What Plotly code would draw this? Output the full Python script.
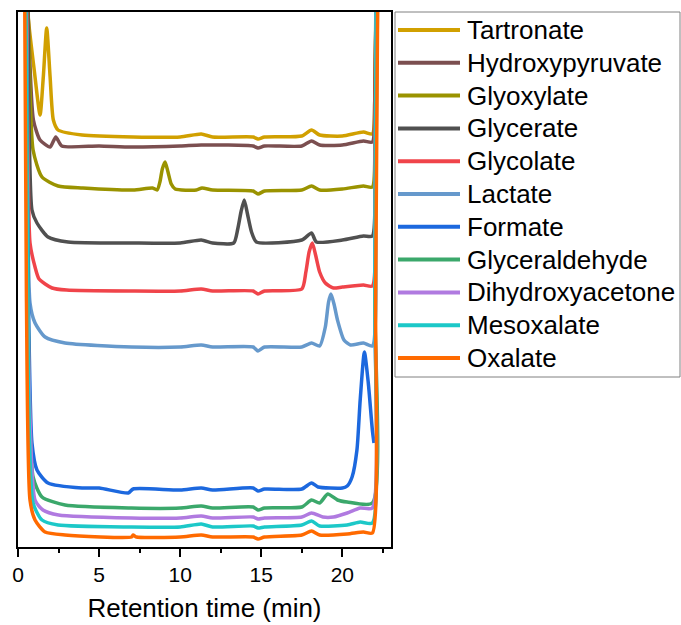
import plotly.graph_objects as go

# Retention time (min) sample points and detector signal (a.u., stacked offsets included)
names = ["Tartronate", "Hydroxypyruvate", "Glyoxylate", "Glycerate", "Glycolate",
         "Lactate", "Formate", "Glyceraldehyde", "Dihydroxyacetone", "Mesoxalate", "Oxalate"]

colors = ["#D1A000", "#7B4F50", "#9A9300", "#505050", "#F0444A",
          "#6699CC", "#1C68DE", "#3BA86B", "#B07AE0", "#1CC8C8", "#FF6A00"]

t_tartronate = [0.45, 0.6, 1.0, 1.36, 1.56, 1.77, 1.98, 2.18, 2.47, 3.95, 7.1, 10.0, 11.3, 12.0,
                14.5, 14.8, 15.2, 17.5, 18.1, 18.6, 20.0, 21.3, 21.85, 22.0, 22.1]
s_tartronate = [647, 535, 477, 432, 470, 519, 470, 427, 417, 412, 410, 410, 413, 410,
                410, 408, 410, 411, 417, 412, 411, 415, 413, 447, 597]

t_hydroxypyruvate = [0.45, 0.62, 0.95, 1.36, 1.98, 2.33, 2.7, 5.0, 7.0, 10.0, 11.3, 14.5, 14.8, 15.2,
                     17.5, 18.1, 18.6, 20.0, 21.3, 21.85, 22.0, 22.1]
s_hydroxypyruvate = [647, 535, 427, 407, 400, 410, 401, 401, 400, 401, 402, 401, 399, 401,
                     401, 406, 402, 402, 406, 405, 447, 597]

t_glyoxylate = [0.5, 0.65, 0.93, 1.48, 2.47, 4.0, 7.1, 8.3, 8.58, 8.75, 8.9, 9.07, 9.25, 9.45, 9.69,
                11.0, 11.35, 12.0, 14.5, 14.8, 15.2, 17.5, 18.1, 18.6, 20.0, 21.3, 21.85, 22.0, 22.1]
s_glyoxylate = [647, 517, 397, 370, 361, 359, 357, 359, 357, 365, 378, 385, 375, 363, 358,
                357, 359, 357, 356, 353, 356, 357, 361, 357, 358, 361, 360, 427, 597]

t_glycerate = [0.5, 0.62, 0.86, 1.17, 1.85, 3.09, 7.0, 10.0, 11.3, 12.0, 13.3, 13.55, 13.75, 13.95, 14.15,
               14.4, 14.7, 17.5, 18.1, 18.4, 20.0, 21.3, 21.85, 22.0, 22.1]
s_glycerate = [647, 520, 337, 324, 310, 305, 304, 304, 307, 304, 304, 318, 335, 347, 333,
               315, 305, 307, 314, 305, 307, 311, 311, 397, 597]

t_glycolate = [0.45, 0.56, 0.74, 1.05, 1.3, 2.1, 3.0, 7.0, 10.0, 11.3, 12.0, 14.5, 14.8, 15.2, 17.5, 17.75,
               17.95, 18.15, 18.35, 18.6, 18.95, 19.45, 20.0, 21.3, 21.85, 22.0, 22.1]
s_glycolate = [647, 520, 304, 280, 268, 259, 257, 256, 256, 258, 256, 256, 253, 256, 258, 275,
               295, 304, 292, 275, 264, 259, 260, 262, 261, 397, 597]

t_lactate = [0.45, 0.56, 0.74, 1.05, 1.67, 2.9, 7.0, 10.0, 11.3, 12.0, 14.5, 14.8, 15.2, 17.5, 18.1,
             18.6, 18.95, 19.15, 19.3, 19.5, 19.7, 20.1, 20.5, 21.3, 21.85, 22.05, 22.2]
s_lactate = [647, 480, 244, 224, 210, 204, 200, 200, 202, 200, 200, 196, 200, 200, 204,
             201, 220, 245, 253, 242, 227, 207, 202, 204, 201, 347, 597]

t_formate = [0.45, 0.6, 0.86, 1.17, 1.85, 3.95, 5.0, 6.8, 7.1, 10.0, 11.3, 12.0, 14.5, 14.8, 15.2,
             17.5, 18.1, 18.5, 20.0, 20.3, 20.6, 20.9, 21.1, 21.36, 21.6, 21.85, 21.95]
s_formate = [647, 300, 104, 77, 64, 59, 59, 54, 58, 57, 59, 57, 59, 56, 58,
             58, 64, 60, 59, 61, 70, 97, 147, 195, 164, 117, 104]

t_glyceraldehyde = [0.45, 0.62, 0.93, 1.48, 2.9, 7.0, 10.0, 11.3, 12.0, 14.5, 14.8, 15.2, 17.5,
                    18.1, 18.6, 19.1, 19.7, 20.3, 21.85, 22.0, 22.1]
s_glyceraldehyde = [647, 250, 70, 50, 42, 39, 39, 41, 39, 40, 37, 39, 40,
                    47, 44, 53, 47, 45, 44, 247, 597]

t_dihydroxyacetone = [0.45, 0.62, 1.05, 1.54, 2.5, 7.0, 10.0, 11.3, 12.0, 14.5, 14.8, 15.2,
                      17.5, 18.1, 18.8, 19.45, 20.3, 21.1, 21.85, 22.0, 22.1]
s_dihydroxyacetone = [647, 220, 47, 37, 32, 29, 29, 31, 29, 30, 28, 29,
                      30, 34, 30, 30, 34, 39, 39, 247, 597]

t_mesoxalate = [0.45, 0.62, 0.93, 1.48, 2.47, 7.0, 10.0, 11.3, 12.0, 14.5, 14.8, 15.2, 17.5,
                18.1, 18.6, 20.3, 21.1, 21.85, 22.0, 22.1]
s_mesoxalate = [647, 200, 44, 27, 22, 20, 20, 23, 20, 21, 19, 20, 22,
                26, 21, 22, 25, 24, 247, 597]

t_oxalate = [0.38, 0.52, 0.74, 1.05, 1.67, 2.9, 7.0, 7.1, 7.3, 10.0, 11.3, 12.0, 14.5, 14.8, 15.2,
             17.5, 18.1, 18.6, 20.3, 21.3, 21.85, 22.05, 22.2]
s_oxalate = [647, 250, 47, 27, 15, 12, 10, 12, 10, 10, 12, 10, 10, 8, 10,
             12, 16, 12, 13, 15, 14, 247, 597]

times = [t_tartronate, t_hydroxypyruvate, t_glyoxylate, t_glycerate, t_glycolate, t_lactate,
         t_formate, t_glyceraldehyde, t_dihydroxyacetone, t_mesoxalate, t_oxalate]
signals = [s_tartronate, s_hydroxypyruvate, s_glyoxylate, s_glycerate, s_glycolate, s_lactate,
           s_formate, s_glyceraldehyde, s_dihydroxyacetone, s_mesoxalate, s_oxalate]

x_tickvals = [0, 5, 10, 15, 20]

fig = go.Figure()
for name, color, t, s in zip(names, colors, times, signals):
    fig.add_trace(go.Scatter(x=t, y=s, mode="lines", name=name, showlegend=False,
                             line=dict(color=color, width=3.5, shape="spline", smoothing=0.6)))

font_family = "Liberation Sans, Arial, sans-serif"

# Legend drawn as a boxed key to the right of the plot (paper coordinates)
W, H = 681, 625
ml, mr, mt, mb = 18, 290, 12, 78
pw, ph = W - ml - mr, H - mt - mb

def px_x(p):
    return (p - ml) / pw

def px_y(p):
    return (H - mb - p) / ph

shapes = [dict(type="rect", xref="paper", yref="paper",
               x0=px_x(395), x1=px_x(680), y0=px_y(377), y1=px_y(12),
               line=dict(color="#808080", width=1), fillcolor="white", layer="above")]
annotations = []
for i, (name, color) in enumerate(zip(names, colors)):
    yc = 30 + i * 32.8
    shapes.append(dict(type="line", xref="paper", yref="paper",
                       x0=px_x(398), x1=px_x(460), y0=px_y(yc), y1=px_y(yc),
                       line=dict(color=color, width=4)))
    annotations.append(dict(text=name, xref="paper", yref="paper", x=px_x(465), y=px_y(yc),
                            xanchor="left", yanchor="middle", showarrow=False,
                            font=dict(size=26, family=font_family, color="black")))

fig.update_layout(
    width=W, height=H,
    margin=dict(l=ml, r=mr, t=mt, b=mb, autoexpand=False),
    paper_bgcolor="white", plot_bgcolor="white",
    font=dict(family=font_family, color="black"),
    showlegend=False,
    shapes=shapes, annotations=annotations,
    xaxis=dict(range=[0, 23], tickvals=x_tickvals, ticks="outside", ticklen=8, tickwidth=1.5,
               tickcolor="black", showline=True, linewidth=2, linecolor="black", mirror=True,
               showgrid=False, zeroline=False, tickfont=dict(size=21),
               minor=dict(dtick=2.5, tick0=0, ticks="outside", ticklen=4, tickwidth=1.5, tickcolor="black", showgrid=False),
               title=dict(text="Retention time (min)", font=dict(size=26), standoff=14)),
    xaxis2=dict(range=[0, 23], overlaying="x", side="top", tickvals=x_tickvals, ticks="inside",
                ticklen=8, tickwidth=1.5, tickcolor="black", showticklabels=False, showline=False,
                showgrid=False, zeroline=False,
                minor=dict(dtick=2.5, tick0=0, ticks="inside", ticklen=4, tickwidth=1.5, tickcolor="black", showgrid=False)),
    yaxis=dict(range=[0, 535], showticklabels=False, ticks="", showline=True, linewidth=2,
               linecolor="black", mirror=True, showgrid=False, zeroline=False),
)

fig.write_html("out.html")
